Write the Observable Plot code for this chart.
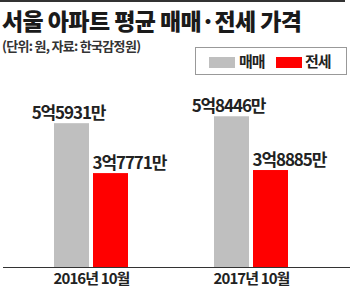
<!DOCTYPE html>
<html>
<head>
<meta charset="utf-8">
<script src="https://cdn.jsdelivr.net/npm/d3@7"></script>
<script src="https://cdn.jsdelivr.net/npm/@observablehq/plot@0.6"></script>
<style>
  html, body { margin: 0; padding: 0; background: #fff; }
  #wrap { position: relative; width: 350px; height: 288px; overflow: hidden; background: #fff;
          font-family: "Noto Sans CJK KR", "Noto Sans", sans-serif; color: #222; }
  #topbar { position: absolute; left: 0; top: 0; width: 345px; height: 2px; background: #333; }
  #title { position: absolute; left: 2px; top: 7px; font-size: 23px; font-weight: 900; line-height: 26px;
           letter-spacing: -0.6px; white-space: nowrap; color: #1a1a1a; }
  #subtitle { position: absolute; left: 2px; top: 38px; font-size: 13px; font-weight: 700; line-height: 16px;
              letter-spacing: -0.7px; white-space: nowrap; color: #333; }
  #legend { position: absolute; left: 195px; top: 47px; width: 150px; height: 26px; border: 1px solid #999;
            background: #fff; z-index: 2; }
  .sw { position: absolute; top: 9px; width: 26px; height: 11px; }
  .lt { position: absolute; top: 3px; font-size: 15px; font-weight: 700; line-height: 19px; letter-spacing: -1px; color: #222; }
  #chart { position: absolute; left: 0; top: 0; z-index: 1; }
  #chart g[aria-label="text"] text { letter-spacing: -1.1px; }
  #chart g[aria-label="x-axis tick label"] text { letter-spacing: -0.9px; }
</style>
</head>
<body>
<div id="wrap">
  <div id="topbar"></div>
  <div id="title">서울 아파트 평균 매매·전세 가격</div>
  <div id="subtitle">(단위: 원, 자료: 한국감정원)</div>
  <div id="legend"></div>
  <div id="chart"></div>
</div>
<script>
// values in 만원 (10,000 won)
const periods = ["2016년 10월", "2017년 10월"];
const saleValues = [55931, 58446];    // 매매
const jeonseValues = [37771, 38885];  // 전세
const seriesNames = ["매매", "전세"];
const seriesColors = ["#bfbfbf", "#ff0000"];
const yBase = 3600;
const yTop = 60000;

const sale = periods.map((p, i) => ({period: p, series: seriesNames[0], value: saleValues[i]}));
const jeonse = periods.map((p, i) => ({period: p, series: seriesNames[1], value: jeonseValues[i]}));

const fmt = v => `${Math.floor(v / 10000)}억${v % 10000}만`;

// legend
const legend = document.getElementById("legend");
const swLeft = [13, 80];
const txLeft = [43, 109];
seriesNames.forEach((name, i) => {
  const sw = document.createElement("div");
  sw.className = "sw";
  sw.style.left = swLeft[i] + "px";
  sw.style.background = seriesColors[i];
  legend.appendChild(sw);
  const t = document.createElement("div");
  t.className = "lt";
  t.style.left = txLeft[i] + "px";
  t.textContent = name;
  legend.appendChild(t);
});

const chart = Plot.plot({
  width: 350,
  height: 288,
  marginTop: 112,
  marginBottom: 21,
  marginLeft: 3,
  marginRight: 0,
  style: {fontFamily: "'Noto Sans CJK KR', sans-serif", background: "transparent", color: "#222"},
  x: {type: "band", domain: periods, paddingInner: 0.5375, paddingOuter: 0.353, align: 0.451, axis: null},
  y: {domain: [yBase, yTop], axis: null},
  marks: [
    Plot.barY(sale, {x: "period", y1: yBase, y2: "value", fill: seriesColors[0], insetRight: 39}),
    Plot.barY(jeonse, {x: "period", y1: yBase, y2: "value", fill: seriesColors[1], insetLeft: 39}),
    Plot.ruleY([yBase], {stroke: "#333", strokeWidth: 1}),
    Plot.text(sale, {x: "period", y: "value", text: d => fmt(d.value), textAnchor: "middle", lineAnchor: "bottom",
      dx: -23, dy: -5, fontSize: 17, fontWeight: 700, fill: "#222"}),
    Plot.text(jeonse, {x: "period", y: "value", text: d => fmt(d.value), textAnchor: "start", lineAnchor: "bottom",
      dx: 1, dy: -5, fontSize: 17, fontWeight: 700, fill: "#222"}),
    Plot.axisX({tickSize: 0, tickPadding: 6, fontSize: 15, fontWeight: 700, fill: "#222", label: null})
  ]
});
document.getElementById("chart").appendChild(chart);
</script>
</body>
</html>
